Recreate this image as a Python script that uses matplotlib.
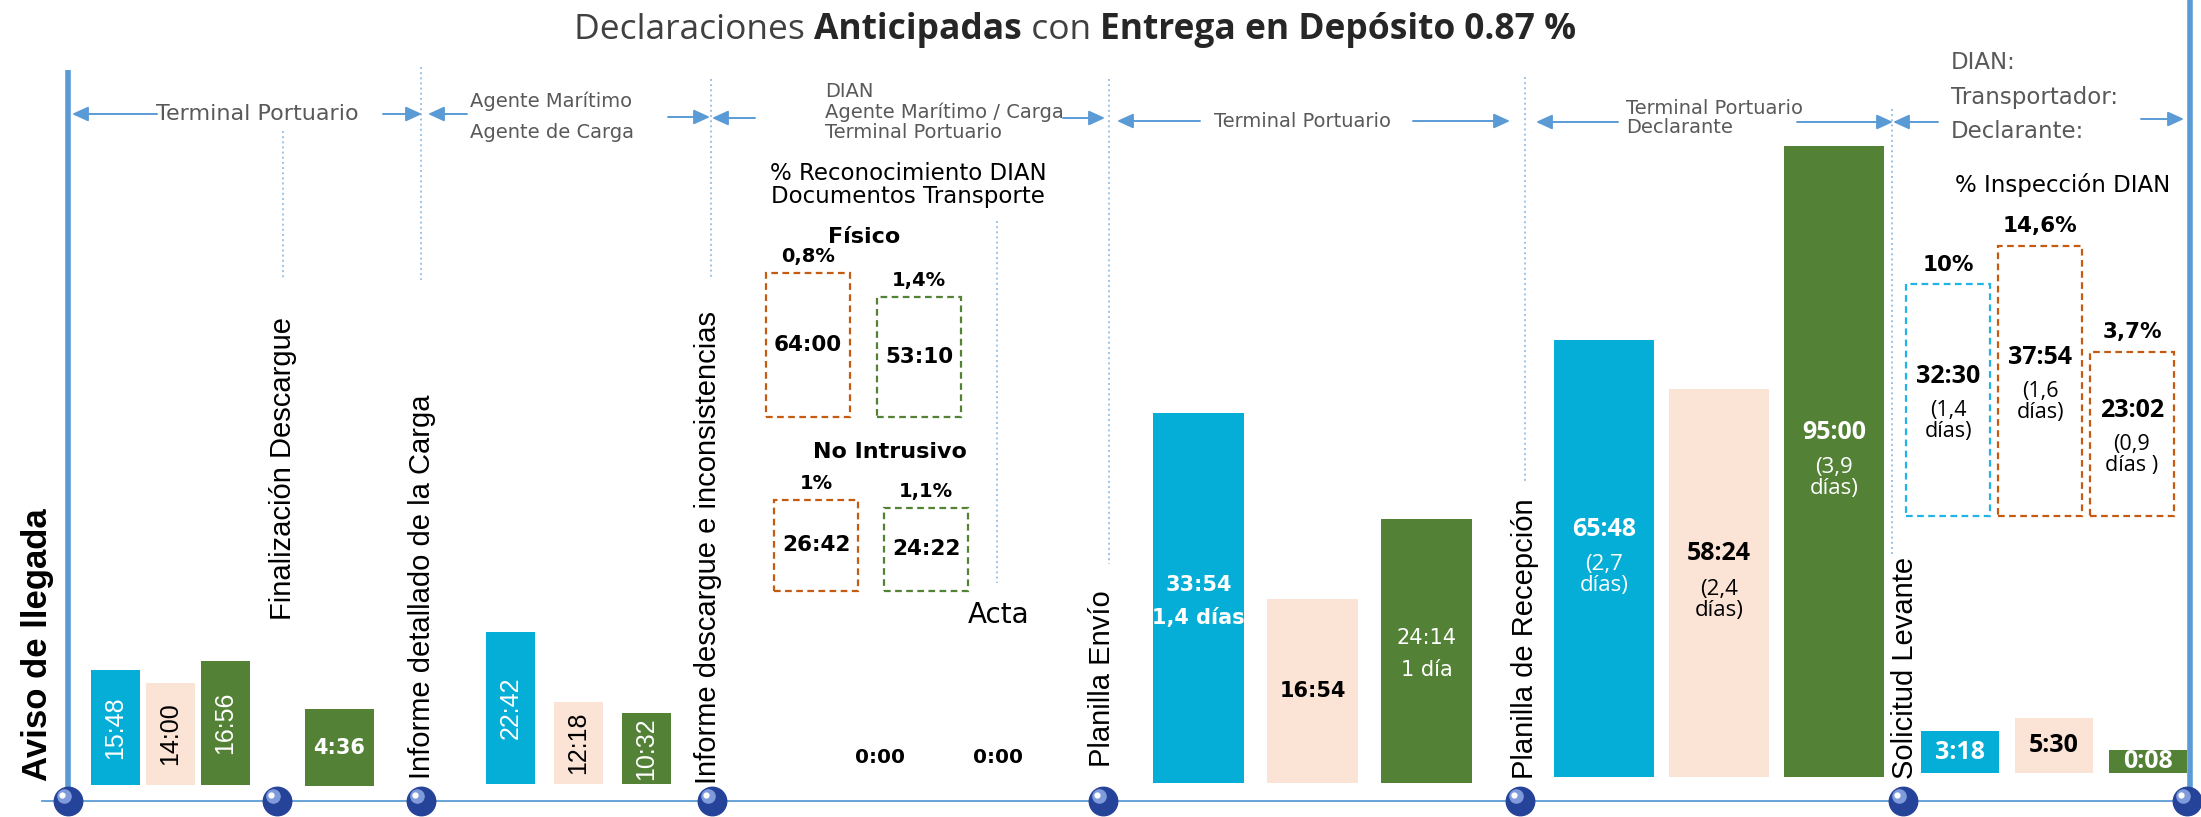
import matplotlib
matplotlib.use('Agg')
import matplotlib.pyplot as plt

W, H = 2201, 817

# ---- colores
BLUE = '#05AED6'
PEACH = '#FBE3D5'
GREEN = '#538135'
ORANGE = '#C55A11'
DGREEN = '#548235'
CYAN = '#1EB4E6'
LINE = '#5B9BD5'
DOT = '#9DC3E6'
GRAY = '#595959'
NARROW = ['Liberation Sans', 'DejaVu Sans']
CALI = ['Open Sans', 'DejaVu Sans']

# ---- datos (horas:minutos)
aviso_times = ['15:48', '14:00', '16:56']
descargue_times = ['4:36']
detalle_times = ['22:42', '12:18', '10:32']
fisico_times = ['64:00', '53:10']
fisico_pct = ['0,8%', '1,4%']
intrusivo_times = ['26:42', '24:22']
intrusivo_pct = ['1%', '1,1%']
acta_times = ['0:00', '0:00']
envio_times = ['33:54', '16:54', '24:14']
envio_days = ['1,4 días', '', '1 día']
recepcion_times = ['65:48', '58:24', '95:00']
recepcion_days = ['(2,7\ndías)', '(2,4\ndías)', '(3,9\ndías)']
inspeccion_times = ['32:30', '37:54', '23:02']
inspeccion_days = ['(1,4\ndías)', '(1,6\ndías)', '(0,9\ndías )']
inspeccion_pct = ['10%', '14,6%', '3,7%']
levante_times = ['3:18', '5:30', '0:08']

milestones = ['Aviso de llegada', 'Finalización Descargue', 'Informe detallado de la Carga',
              'Informe descargue e inconsistencias', 'Planilla Envío',
              'Planilla de Recepción', 'Solicitud Levante']
actors = ['Terminal Portuario', 'Agente Marítimo\nAgente de Carga',
          'DIAN\nAgente Marítimo / Carga\nTerminal Portuario', 'Terminal Portuario',
          'Terminal Portuario\nDeclarante', 'DIAN:\nTransportador:\nDeclarante:']
title_parts = [('Declaraciones ', 'normal'), ('Anticipadas', 'bold'), (' con ', 'normal'),
               ('Entrega en Depósito', 'bold'), (' 0.87 %', 'bold')]


def to_hours(t):
    h, m = t.split(':')
    return int(h) + int(m) / 60


fig = plt.figure(figsize=(W / 100, H / 100), dpi=100)
ax = fig.add_axes([0, 0, 1, 1])
ax.set_xlim(0, W)
ax.set_ylim(H, 0)
ax.axis('off')


def draw_bars(times, x0, width, gap, base, scale, colors, filled=True, floor=0.0):
    # cada grupo tiene su propia escala (px por hora)
    vals = [to_hours(t) for t in times]
    n = len(vals)
    x1 = x0 + n * width + (n - 1) * gap
    a = fig.add_axes([x0 / W, 1 - base / H, (x1 - x0) / W, (base - 100) / H])
    a.set_xlim(x0, x1)
    a.set_ylim(-floor, (base - 100) / scale - floor)
    a.axis('off')
    xs = [x0 + width / 2 + i * (width + gap) for i in range(n)]
    heights = [v + floor for v in vals]
    if filled:
        a.bar(xs, heights, width, bottom=-floor, color=colors, clip_on=False)
    else:
        a.bar(xs, heights, width, bottom=-floor, facecolor='none', edgecolor=colors,
              linestyle=(0, (3, 2)), linewidth=1.6, clip_on=False)
    mids = [(v - floor) / 2 for v in vals]
    return a, xs, vals, mids


# ---- linea de tiempo
ax.plot([42, W], [801, 801], color=LINE, lw=1.3, zorder=1)
ax.plot([68, 68], [70, 801], color=LINE, lw=4, solid_capstyle='butt', zorder=1)
ax.plot([2190, 2190], [0, 790], color=LINE, lw=4, solid_capstyle='butt', zorder=1)
balls = [68, 277, 421, 712, 1103, 1520, 1903, 2187]
ax.scatter(balls, [801] * len(balls), s=420, color='#26439A', zorder=3)
ax.scatter([b - 4 for b in balls], [796] * len(balls), s=90, color='#7F9BDB', zorder=4)
ax.scatter([b - 6 for b in balls], [795] * len(balls), s=12, color='white', zorder=5)

# lineas punteadas
for x, y0, y1 in [(283, 131, 280), (421, 67, 280), (711, 79, 280), (997, 221, 583),
                  (1109, 79, 564), (1525, 77, 483), (1892, 109, 554)]:
    ax.plot([x, x], [y0, y1], color=DOT, ls=':', lw=1.4, zorder=1)


def arrow(tail, head, y):
    ax.annotate('', xy=(head, y), xytext=(tail, y),
                arrowprops=dict(arrowstyle='-|>,head_length=0.7,head_width=0.32', color=LINE,
                                lw=1.4, shrinkA=0, shrinkB=0, mutation_scale=14))


for tail, head, y in [(157, 72, 114), (383, 422, 114), (467, 428, 114), (668, 710, 117),
                      (755, 712, 118), (1063, 1105, 118), (1200, 1117, 121), (1413, 1510, 121),
                      (1618, 1536, 122), (1797, 1893, 122), (1938, 1893, 122), (2141, 2184, 119)]:
    arrow(tail, head, y)

# actores
ax.text(257, 114, actors[0], ha='center', va='center', fontsize=16, color=GRAY)
ax.text(470, 117, actors[1], ha='left', va='center', fontsize=14, color=GRAY, linespacing=1.8)
ax.text(825, 112, actors[2], ha='left', va='center', fontsize=14, color=GRAY, linespacing=1.08)
ax.text(1302, 121, actors[3], ha='center', va='center', fontsize=14, color=GRAY)
ax.text(1626, 118, actors[4], ha='left', va='center', fontsize=14, color=GRAY, linespacing=0.98)
ax.text(1951, 97, actors[5], ha='left', va='center', fontsize=16.5, color=GRAY, linespacing=1.65)

# hitos (texto vertical)
ax.text(38, 781, milestones[0], rotation=90, ha='center', va='bottom', fontsize=25,
        fontweight='bold', family=NARROW)
for name, x, yb in zip(milestones[1:], [283, 422, 708, 1102, 1525, 1905],
                       [620, 779, 784, 767, 779, 779]):
    ax.text(x, yb, name, rotation=90, ha='center', va='bottom', fontsize=21, family=NARROW)

# titulo
rend = fig.canvas.get_renderer()
pieces = [ax.text(0, 30, s, ha='left', va='center', fontsize=25.5, family=CALI, fontweight=w,
                  color='#404040' if w == 'normal' else '#262626') for s, w in title_parts]
widths = [p.get_window_extent(rend).width for p in pieces]
x = 1075 - sum(widths) / 2
for p, w in zip(pieces, widths):
    p.set_x(x)
    x += w

# ---- Aviso de llegada
a, xs, vals, mids = draw_bars(aviso_times, 91, 49, 6, 785, 7.3, [BLUE, PEACH, GREEN])
for x, m, t, c in zip(xs, mids, aviso_times, ['white', 'black', 'white']):
    a.text(x, m, t, rotation=90, ha='center', va='center', color=c, fontsize=18, family=NARROW)

a, xs, vals, mids = draw_bars(descargue_times, 305, 69, 0, 786, 16.7, [GREEN])
a.text(xs[0], mids[0], descargue_times[0], ha='center', va='center', color='white',
       fontsize=15, fontweight='bold')

# ---- Informe detallado
a, xs, vals, mids = draw_bars(detalle_times, 486, 49, 19, 784, 6.7, [BLUE, PEACH, GREEN])
for x, m, t, c in zip(xs, mids, detalle_times, ['white', 'black', 'white']):
    a.text(x, m, t, rotation=90, ha='center', va='center', color=c, fontsize=18, family=NARROW)

# ---- Reconocimiento DIAN
ax.text(908, 185, '% Reconocimiento DIAN\nDocumentos Transporte', ha='center', va='center',
        fontsize=16.5, linespacing=0.98)
ax.text(864, 237, 'Físico', ha='center', va='center', fontsize=16, fontweight='bold')
ax.text(890, 452, 'No Intrusivo', ha='center', va='center', fontsize=16, fontweight='bold')
ax.text(999, 615, 'Acta', ha='center', va='center', fontsize=20)

for times, pcts, x0, gap, base, scale in [(fisico_times, fisico_pct, 766, 27, 417, 2.25),
                                          (intrusivo_times, intrusivo_pct, 774, 26, 591, 3.41)]:
    a, xs, vals, mids = draw_bars(times, x0, 84, gap, base, scale, [ORANGE, DGREEN], filled=False)
    for x, v, m, t, p in zip(xs, vals, mids, times, pcts):
        a.text(x, m, t, ha='center', va='center', fontsize=15.5, fontweight='bold')
        a.annotate(p, (x, v), xytext=(0, 12), textcoords='offset points', ha='center',
                   va='center', fontsize=14, fontweight='bold')

a, xs, vals, mids = draw_bars(acta_times, 854, 52, 66, 784, 10, [GREEN, GREEN])
for x, v, t in zip(xs, vals, acta_times):
    a.annotate(t, (x, v), xytext=(0, 19), textcoords='offset points', ha='center',
               va='center', fontsize=14.5, fontweight='bold')

# ---- Planilla Envío
a, xs, vals, mids = draw_bars(envio_times, 1153, 91, 23, 783, 10.9, [BLUE, PEACH, GREEN])
for x, m, t, d, c, w in zip(xs, mids, envio_times, envio_days, ['white', 'black', 'white'],
                            ['bold', 'bold', 'normal']):
    if d:
        a.annotate(t, (x, m), xytext=(0, 9.5), textcoords='offset points', ha='center',
                   va='center', color=c, fontsize=15, fontweight=w)
        a.annotate(d, (x, m), xytext=(0, -14), textcoords='offset points', ha='center',
                   va='center', color=c, fontsize=15, fontweight=w)
    else:
        a.text(x, m, t, ha='center', va='center', color=c, fontsize=15, fontweight=w)

# ---- Planilla de Recepción
a, xs, vals, mids = draw_bars(recepcion_times, 1554, 100, 15, 777, 6.64, [BLUE, PEACH, GREEN])
for x, m, t, d, c in zip(xs, mids, recepcion_times, recepcion_days, ['white', 'black', 'white']):
    a.annotate(t, (x, m), xytext=(0, 21), textcoords='offset points', ha='center',
               va='center', color=c, fontsize=18, fontweight='bold', family=CALI)
    a.annotate(d, (x, m), xytext=(0, -12), textcoords='offset points', ha='center',
               va='center', color=c, fontsize=16, family=CALI, linespacing=1.0)

# ---- Inspección DIAN
ax.text(2063, 185, '% Inspección DIAN', ha='center', va='center', fontsize=16.5)
a, xs, vals, mids = draw_bars(inspeccion_times, 1906, 84, 8, 516, 7.13, [CYAN, ORANGE, ORANGE],
                              filled=False)
for x, v, m, t, d, p in zip(xs, vals, mids, inspeccion_times, inspeccion_days, inspeccion_pct):
    a.annotate(t, (x, m), xytext=(0, 17), textcoords='offset points', ha='center',
               va='center', fontsize=18, fontweight='bold', family=CALI)
    a.annotate(d, (x, m), xytext=(0, -15), textcoords='offset points', ha='center',
               va='center', fontsize=15.5, family=CALI, linespacing=1.0)
    a.annotate(p, (x, v), xytext=(0, 14), textcoords='offset points', ha='center',
               va='center', fontsize=15.5, fontweight='bold')

# ---- Solicitud Levante (barras con base minima para que se vean)
a, xs, vals, mids = draw_bars(levante_times, 1921, 78, 16, 773, 5.9, [BLUE, PEACH, GREEN],
                              floor=3.8)
for x, m, t, c in zip(xs, mids, levante_times, ['white', 'black', 'white']):
    a.text(x, m, t, ha='center', va='center', color=c, fontsize=18, fontweight='bold',
           family=CALI)

fig.savefig('out.png', dpi=100)
